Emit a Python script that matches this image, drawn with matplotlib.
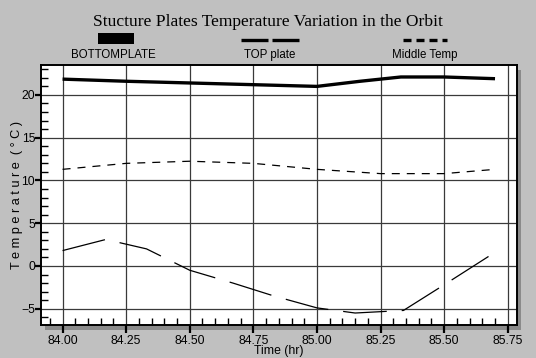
import matplotlib

matplotlib.use("Agg")
import matplotlib.pyplot as plt
from matplotlib.lines import Line2D
from matplotlib.patches import Rectangle
from matplotlib.ticker import MultipleLocator

BG = "#c0c0c0"
SHADOW = "#8a8a8a"
INK = "#000000"

# values
time_bottom = [84.00, 84.25, 84.50, 84.75, 85.00, 85.17, 85.33, 85.50, 85.70]
temp_bottom = [21.85, 21.6, 21.4, 21.2, 21.0, 21.6, 22.1, 22.1, 21.9]

time_top = [84.00, 84.17, 84.33, 84.50, 84.67, 84.83, 85.00, 85.15, 85.34, 85.50, 85.70]
temp_top = [1.8, 3.1, 2.0, -0.5, -2.0, -3.5, -4.9, -5.5, -5.2, -2.2, 1.6]

time_mid = [84.00, 84.25, 84.50, 84.75, 85.00, 85.25, 85.50, 85.70]
temp_mid = [11.3, 12.0, 12.25, 12.0, 11.3, 10.8, 10.8, 11.3]

series_labels = ["BOTTOMPLATE", "TOP plate", "Middle Temp"]
x_ticks = [84.00, 84.25, 84.50, 84.75, 85.00, 85.25, 85.50, 85.75]
y_ticks = [-5, 0, 5, 10, 15, 20]

fig = plt.figure(figsize=(5.36, 3.58), dpi=100)
fig.patch.set_facecolor(BG)
plt.rcParams["font.family"] = "Liberation Sans"

left, bottom, width, height = 0.0759, 0.0922, 0.888, 0.7262
# drop shadow behind the plot frame
fig.patches.append(Rectangle((left + 4 / 536, bottom - 5 / 358), width, height,
                             transform=fig.transFigure, facecolor=SHADOW,
                             edgecolor="none", zorder=0))
ax = fig.add_axes([left, bottom, width, height])
ax.set_facecolor("white")
ax.set_zorder(1)

# dash patterns are in units of linewidth
ax.plot(time_bottom, temp_bottom, color=INK, lw=2.4, solid_capstyle="butt", zorder=3)
ax.plot(time_top, temp_top, color=INK, lw=0.9, dashes=(35, 12), zorder=3)
ax.plot(time_mid, temp_mid, color=INK, lw=0.9, dashes=(6.4, 5.6), zorder=3)

ax.set_xlim(83.914, 85.785)
ax.set_ylim(-6.9, 23.5)
ax.set_xticks(x_ticks)
ax.set_xticklabels([f"{t:.2f}" for t in x_ticks])
ax.set_yticks(y_ticks)
ax.xaxis.set_minor_locator(MultipleLocator(0.05))
ax.yaxis.set_minor_locator(MultipleLocator(1))
ax.grid(True, which="major", color="#3a3a3a", lw=0.9)
ax.set_axisbelow(True)
ax.tick_params(which="major", direction="out", width=1.6,
               labelsize=8.8, colors=INK)
ax.tick_params(axis="x", which="major", length=6, pad=1)
ax.tick_params(axis="y", which="major", length=4, pad=0)
ax.tick_params(which="minor", direction="in", length=5, width=1.0, colors=INK)
for s in ax.spines.values():
    s.set_linewidth(1.4)
    s.set_color(INK)

ax.set_xlabel("Time (hr)", fontsize=8.8, labelpad=-1)
ax.set_ylabel("T e m p e r a t u r e  ( ° C )", fontsize=9.2, labelpad=-1)

fig.text(0.5, 1 - 22 / 358, "Stucture Plates Temperature Variation in the Orbit",
         ha="center", va="center", fontsize=12.6, family="Liberation Serif")

# legend drawn along the top, sample above each label
label_x = [113, 270, 425]
for lx, lab in zip(label_x, series_labels):
    fig.text(lx / 536, 1 - 55 / 358, lab, ha="center", va="center", fontsize=8.3)
fig.patches.append(Rectangle((98 / 536, 1 - 44 / 358), 36 / 536, 11 / 358,
                             transform=fig.transFigure, facecolor=INK,
                             edgecolor="none"))
fig.lines.append(Line2D([241 / 536, 299 / 536], [1 - 39.5 / 358] * 2,
                        transform=fig.transFigure, color=INK, lw=2.4,
                        dashes=(8.1, 1.2), dash_capstyle="butt"))
fig.lines.append(Line2D([403 / 536, 447 / 536], [1 - 39.5 / 358] * 2,
                        transform=fig.transFigure, color=INK, lw=2.4,
                        dashes=(2.4, 1.5), dash_capstyle="butt"))

fig.savefig("out.png", dpi=100, facecolor=BG)
